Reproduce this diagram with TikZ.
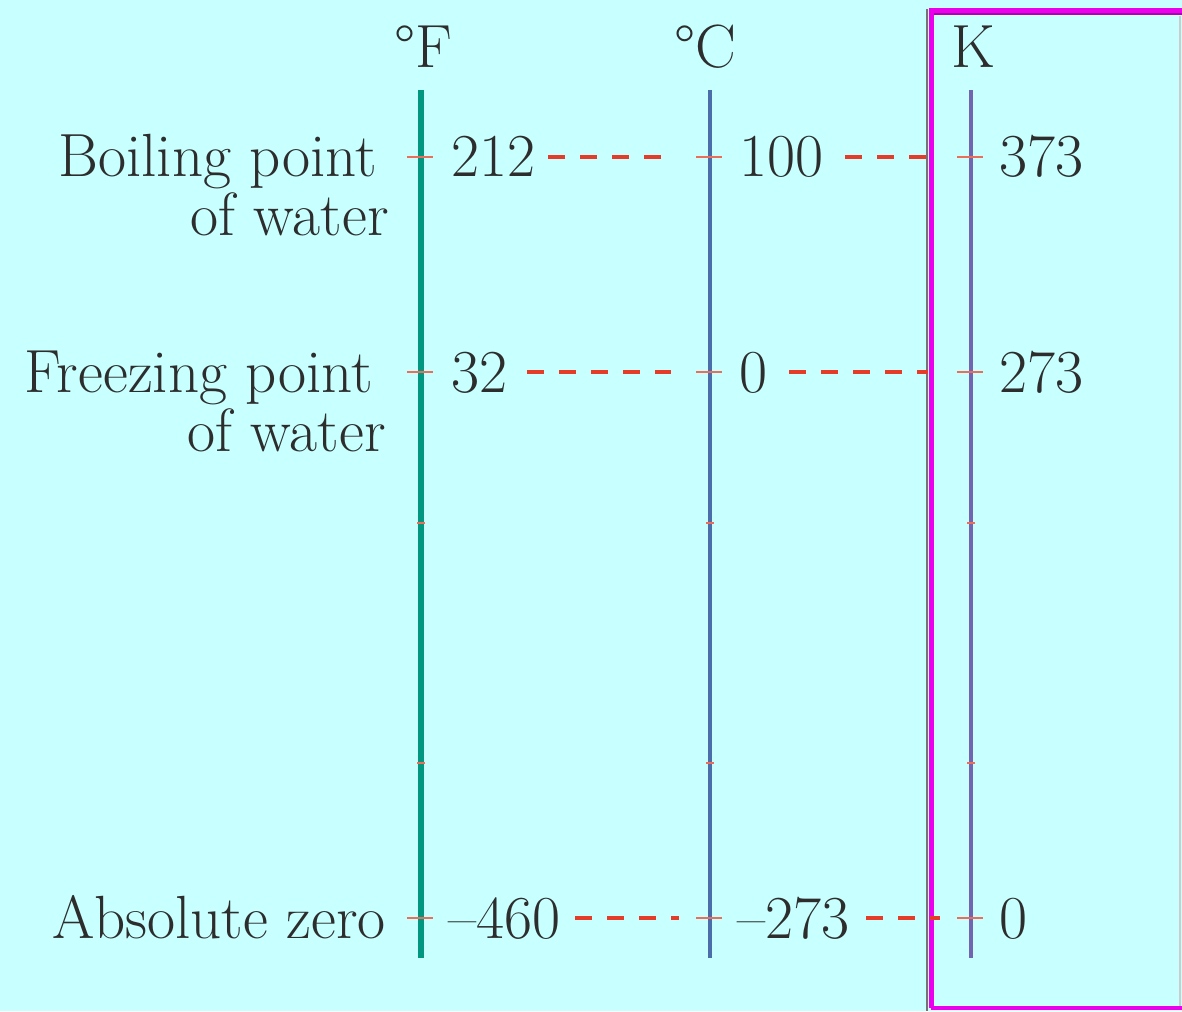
\documentclass[tikz,border=0pt]{standalone}
\usepackage{fontspec}
\definecolor{bg}{RGB}{200,255,255}
\definecolor{fcol}{RGB}{0,150,128}
\definecolor{ccol}{RGB}{75,110,170}
\definecolor{kcol}{RGB}{115,100,178}
\definecolor{dashred}{RGB}{228,60,40}
\definecolor{tickred}{RGB}{235,110,90}
\definecolor{txt}{RGB}{45,45,45}
\definecolor{mag}{RGB}{235,0,235}
\begin{document}
\begin{tikzpicture}[x=1pt,y=-1pt,
  lbl/.style={inner sep=0pt,text=txt,font=\fontsize{61}{62}\selectfont},
  scaleline/.style={line width=5pt},
  longtick/.style={tickred,line width=1.6pt},
  shorttick/.style={tickred,line width=2.4pt},
  link/.style={dashred,line width=4.5pt,dash pattern=on 17pt off 15pt}]
\fill[bg] (0,0) rectangle (1182,1011);
\useasboundingbox (0,0) rectangle (1182,1011);
% magenta frame
\draw[black!55,line width=2pt] (927,9) -- (927,1011);
\draw[mag!75!black,line width=2pt] (931,14) -- (1182,14);
\draw[mag,line width=5pt] (931,1008) -- (931,11) -- (1182,11);
\draw[mag,line width=4pt] (931,1008) -- (1182,1008);
\draw[black!20,line width=2pt] (1180,16) -- (1180,1006);
% scale lines
\coordinate (ftop) at (421,90); \coordinate (fbot) at (421,958);
\coordinate (ctop) at (710,90); \coordinate (cbot) at (710,958);
\coordinate (ktop) at (971,90); \coordinate (kbot) at (971,958);
\draw[scaleline,fcol,line width=6pt] (ftop) -- (fbot);
\draw[scaleline,ccol,line width=4.5pt] (ctop) -- (cbot);
\draw[scaleline,kcol,line width=4.5pt] (ktop) -- (kbot);
% ticks
\foreach \xx in {421,710,971}{
  \foreach \yy in {157,372,918}{
    \draw[longtick] (\xx-14,\yy) -- (\xx+12,\yy);
  }
  \foreach \yy in {523,763}{
    \draw[shorttick] (\xx-4,\yy) -- (\xx+4,\yy);
  }
}
% headers
\node[lbl,anchor=base] (hf) at (423,68) {\textdegree F};
\node[lbl,anchor=base] (hc) at (705,68) {\textdegree C};
\node[lbl,anchor=base] (hk) at (973,68) {K};
% left labels
\node[lbl,anchor=base east] (boil1) at (377,177) {Boiling point};
\node[lbl,anchor=base east] (boil2) at (389,235) {of water};
\node[lbl,anchor=base east] (frz1) at (373,392) {Freezing point};
\node[lbl,anchor=base east] (frz2) at (386,451) {of water};
\node[lbl,anchor=base east] (abs) at (386,938) {Absolute zero};
% numbers
\node[lbl,anchor=base west] (f212) at (451,177) {212};
\node[lbl,anchor=base west] (c100) at (739,177) {100};
\node[lbl,anchor=base west] (k373) at (999,177) {373};
\node[lbl,anchor=base west] (f32) at (451,392) {32};
\node[lbl,anchor=base west] (c0) at (739,392) {0};
\node[lbl,anchor=base west] (k273) at (999,392) {273};
\node[lbl,anchor=base west] (f460) at (448,938) {\textendash460};
\node[lbl,anchor=base west] (c273) at (737,938) {\textendash273};
\node[lbl,anchor=base west] (k0) at (999,938) {0};
% dashed links
\coordinate (a1) at (548,157); \coordinate (a2) at (664,157);
\coordinate (a3) at (845,157); \coordinate (a4) at (928,157);
\coordinate (b1) at (527,372); \coordinate (b2) at (671,372);
\coordinate (b3) at (789,372); \coordinate (b4) at (928,372);
\coordinate (e1) at (575,918); \coordinate (e2) at (679,918);
\coordinate (e3) at (866,918); \coordinate (e4) at (940,918);
\draw[link] (a1) -- (a2);
\draw[link] (a3) -- (a4);
\draw[link] (b1) -- (b2);
\draw[link] (b3) -- (b4);
\draw[link] (e1) -- (e2);
\draw[link] (e3) -- (e4);
\end{tikzpicture}
\end{document}
